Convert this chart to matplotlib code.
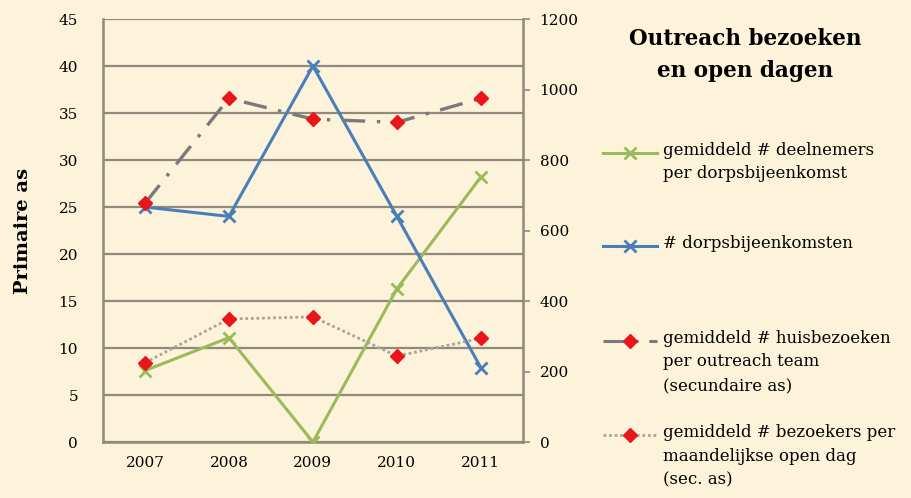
import matplotlib
matplotlib.use("Agg")
import matplotlib.pyplot as plt
from matplotlib.lines import Line2D

# data
years = ["2007", "2008", "2009", "2010", "2011"]
deelnemers = [7.6, 11.1, 0.0, 16.3, 28.2]          # primary axis
dorpsbijeenkomsten = [25.0, 24.0, 40.0, 24.0, 7.9]  # primary axis
huisbezoeken = [677, 975, 916, 907, 975]            # secondary axis
bezoekers_open_dag = [225, 349, 355, 244, 294]      # secondary axis

legend_labels = [
    "gemiddeld # deelnemers\nper dorpsbijeenkomst",
    "# dorpsbijeenkomsten",
    "gemiddeld # huisbezoeken\nper outreach team\n(secundaire as)",
    "gemiddeld # bezoekers per\nmaandelijkse open dag\n(sec. as)",
]

BG = "#fdf2da"
GRID = "#8f8a7c"
GREEN = "#9bbb59"
BLUE = "#4a7ebb"
RED = "#e8161b"
GRAY = "#7a7a7a"
LGRAY = "#a9a49a"

plt.rcParams["font.family"] = ["DejaVu Serif"]

fig = plt.figure(figsize=(9.11, 4.98), dpi=100, facecolor=BG)
ax = fig.add_axes([0.113, 0.1124, 0.461, 0.8494])
ax.set_facecolor(BG)
x = list(range(len(years)))

for y in range(0, 50, 5):
    ax.axhline(y, color=GRID, lw=1.6, zorder=0)

ax.plot(x, deelnemers, color=GREEN, lw=2.2, marker="x", ms=9, mew=2, zorder=3)
ax.plot(x, dorpsbijeenkomsten, color=BLUE, lw=2.2, marker="x", ms=9, mew=2, zorder=3)

ax.set_xlim(-0.5, 4.5)
ax.set_ylim(0, 45)
ax.set_yticks(range(0, 50, 5))
ax.set_xticks(x)
ax.set_xticklabels(years)
ax.tick_params(axis="y", length=0, pad=18, labelsize=11)
ax.tick_params(axis="x", length=0, pad=10, labelsize=11)
for s in ["left", "bottom"]:
    ax.spines[s].set_color(GRID)
    ax.spines[s].set_linewidth(1.8)
ax.spines["top"].set_visible(False)
ax.spines["right"].set_visible(False)
ax.set_ylabel("Primaire as", fontsize=14, fontweight="bold")
ax.yaxis.set_label_coords(-0.17, 0.5)

ax2 = ax.twinx()
ax2.patch.set_visible(False)
ax2.plot(x, huisbezoeken, color=GRAY, lw=2.4, ls=(0, (7, 3.5, 1, 3.5)),
         marker="D", ms=7, mfc=RED, mec=RED, zorder=4)
ax2.plot(x, bezoekers_open_dag, color=LGRAY, lw=2, ls=(0, (1, 1)),
         marker="D", ms=7, mfc=RED, mec=RED, zorder=4)
ax2.set_ylim(0, 1200)
ax2.set_yticks(range(0, 1400, 200))
ax2.tick_params(axis="y", length=5, width=1.2, color=GRID, pad=7, labelsize=11)
ax2.spines["right"].set_color(GRID)
ax2.spines["right"].set_linewidth(1.8)
for s in ["left", "top", "bottom"]:
    ax2.spines[s].set_visible(False)

# title and hand-placed legend on the right
fig.text(0.818, 1 - 55 / 498, "Outreach bezoeken\nen open dagen", ha="center", va="center",
         fontsize=15.5, fontweight="bold", linespacing=1.6)

styles = [
    dict(color=GREEN, lw=2.2, marker="x", ms=8, mew=2),
    dict(color=BLUE, lw=2.2, marker="x", ms=8, mew=2),
    dict(color=GRAY, lw=2.2, ls=(0, (7, 3.5, 1, 3.5)), marker="D", ms=7, mfc=RED, mec=RED),
    dict(color=LGRAY, lw=2, ls=(0, (1, 1)), marker="D", ms=7, mfc=RED, mec=RED),
]
rows_px = [153, 246, 341, 435]
for lab, st, ypx in zip(legend_labels, styles, rows_px):
    yf = 1 - ypx / 498
    fig.add_artist(Line2D([603 / 911, 630 / 911, 657 / 911], [yf, yf, yf],
                          markevery=[1], **st))
    fig.text(663 / 911, yf + 11 / 498, lab, ha="left", va="top", fontsize=12,
             linespacing=1.5)

fig.savefig("out.png", dpi=100, facecolor=BG)
